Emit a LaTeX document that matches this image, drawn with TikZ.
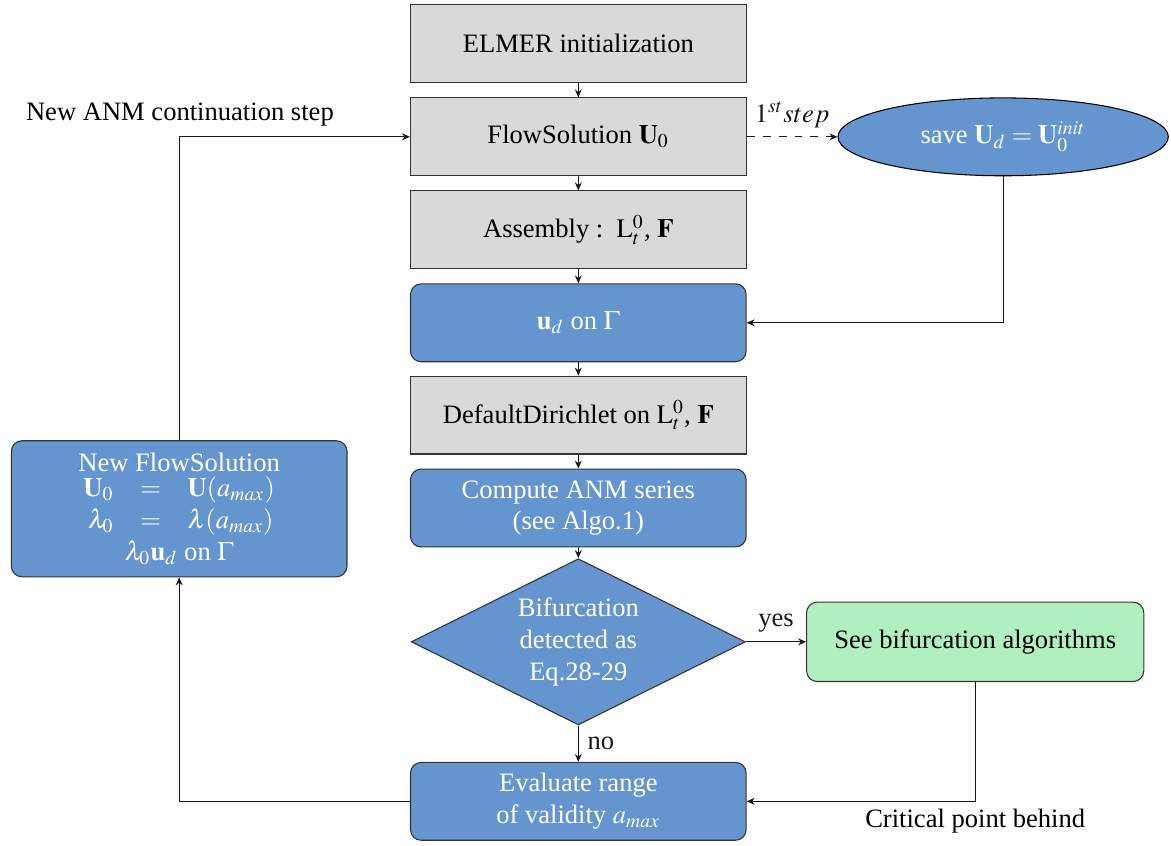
\documentclass[tikz,border=0pt]{standalone}
\usepackage{mathptmx}
\usepackage{fontspec}
\setmainfont{Liberation Serif}
\usetikzlibrary{shapes.geometric,arrows.meta}
\definecolor{anmblue}{RGB}{100,149,206}
\definecolor{anmgray}{RGB}{217,217,217}
\definecolor{anmgreen}{RGB}{176,240,192}

\begin{document}
\begin{tikzpicture}[>={Stealth[length=3pt,width=2.6pt]}]
  \fill [white] (0, 0) rectangle (15.49, -11.19);  % Rand des Bildes.
  \tikzstyle{elmer}=[rectangle, draw=black!80, fill=anmgray, minimum width=4.44cm, minimum height=1.03cm]
  \tikzstyle{anm}=[rectangle, rounded corners=4pt, draw=black!80, fill=anmblue, text=white, align=center, minimum width=4.44cm, minimum height=1.03cm]
  \tikzstyle{test}=[diamond, draw=black!80, fill=anmblue, text=white, align=center, aspect=2, inner sep=0pt, minimum width=4.42cm, minimum height=2.2cm]
  \tikzstyle{link}=[->, black!90]

  \node[elmer] (init)   at (7.65, -0.58)  {ELMER initialization};
  \node[elmer] (flow)   at (7.65, -1.81)  {FlowSolution $\mathbf{U}_0$};
  \node[elmer] (assem)  at (7.65, -3.04)  {Assembly\ :\ \ $\mathrm{L}_t^0$, $\mathbf{F}$};
  \node[anm]   (ud)     at (7.65, -4.27)  {$\mathbf{u}_d$\ on $\Gamma$};
  \node[elmer] (dirich) at (7.65, -5.49)  {DefaultDirichlet on $\mathrm{L}_t^0$, $\mathbf{F}$};
  \node[anm]   (series) at (7.65, -6.72)  {Compute ANM series\\(see Algo.1)};
  \node[test]  (bif)    at (7.65, -8.49)  {Bifurcation\\detected as\\Eq.28-29};
  \node[anm]   (range)  at (7.65, -10.60) {Evaluate range\\of validity $a_{max}$};

  \node[ellipse, draw=black, fill=anmblue, text=white, minimum width=4.37cm, minimum height=1.03cm]
    (save) at (13.27, -1.81) {save $\mathbf{U}_d = \mathbf{U}_0^{init}$};
  \node[anm, fill=anmgreen, text=black, minimum width=4.46cm, minimum height=1.05cm]
    (algo) at (12.90, -8.49) {See bifurcation algorithms};
  \node[anm, minimum height=1.8cm] (newflow) at (2.37, -6.73)
    {New FlowSolution\\
     $\begin{array}{rcl}\mathbf{U}_0 & = & \mathbf{U}(a_{max})\\ \lambda_0 & = & \lambda(a_{max})\end{array}$\\
     $\lambda_0\mathbf{u}_d$\ on $\Gamma$};

  \node (step)  at (2.38, -1.51)  {New ANM continuation step};
  \node (crit)  at (12.90, -10.86) {Critical point behind};

  \draw[link] (init) -- (flow);
  \draw[link] (flow) -- (assem);
  \draw[link] (assem) -- (ud);
  \draw[link] (ud) -- (dirich);
  \draw[link] (dirich) -- (series);
  \draw[link] (series) -- (bif);
  \draw[link] (bif) -- node[right] {no} (range);
  \draw[link] (bif) -- node[above] {yes} (algo);
  \draw[link, dashed] (flow) -- node[above] {$1^{st} step$} (save);
  \draw[link] (save.south) |- (ud.east);
  \draw[link] (algo.south) |- (range.east);
  \draw[link] (range.west) -| (newflow.south);
  \draw[link] (newflow.north) |- (flow.west);
\end{tikzpicture}
\end{document}
